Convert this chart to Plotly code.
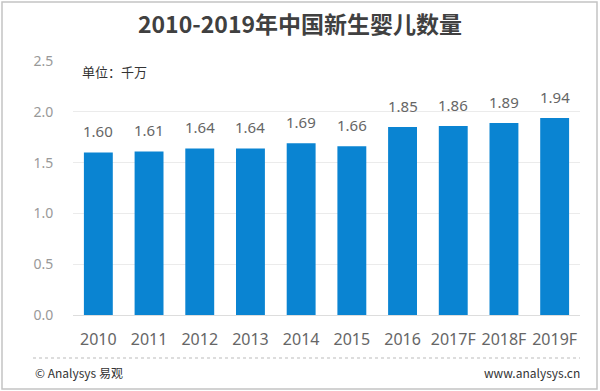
import plotly.graph_objects as go

years = ["2010", "2011", "2012", "2013", "2014", "2015", "2016", "2017F", "2018F", "2019F"]
births = [1.60, 1.61, 1.64, 1.64, 1.69, 1.66, 1.85, 1.86, 1.89, 1.94]
y_ticks = [0.0, 0.5, 1.0, 1.5, 2.0, 2.5]

FONT = "Noto Sans, Noto Sans CJK SC, sans-serif"
CJK = "Noto Sans CJK SC, sans-serif"

fig = go.Figure()
fig.add_trace(go.Bar(
    x=years, y=births,
    marker=dict(color="#0a84d2", line=dict(width=0)),
    width=0.57,
    hoverinfo="skip",
))

# plot area: x 73..580, y 61..315
def px(x):
    return (x - 73) / 507

def py(y):
    return (315 - y) / 254

# value labels: on a category axis, annotation x is the category index
annotations = [
    dict(text=f"{v:.2f}", x=i, y=v, xref="x", yref="y", yanchor="bottom", xanchor="center",
         yshift=9, showarrow=False, font=dict(family=FONT, size=15, color="#666666"))
    for i, v in enumerate(births)
]
annotations += [
    dict(text="单位：千万", xref="paper", yref="paper", x=px(80), y=py(71),
         xanchor="left", yanchor="middle", showarrow=False,
         font=dict(family=CJK, size=13, color="#333333")),
    dict(text="© Analysys 易观", xref="paper", yref="paper", x=px(33), y=py(372),
         xanchor="left", yanchor="middle", showarrow=False,
         font=dict(family=CJK, size=12, color="#333333")),
    dict(text="www.analysys.cn", xref="paper", yref="paper", x=px(582), y=py(372),
         xanchor="right", yanchor="middle", showarrow=False,
         font=dict(family=CJK, size=12, color="#333333")),
]

fig.update_layout(
    width=600, height=391,
    margin=dict(l=73, r=20, t=61, b=76),
    paper_bgcolor="white", plot_bgcolor="white",
    showlegend=False,
    title=dict(text="<b>2010-2019年中国新生婴儿数量</b>", x=0.5, xanchor="center",
               y=1 - 25 / 391, yanchor="middle",
               font=dict(family=CJK, size=23, color="#404040")),
    xaxis=dict(type="category", categoryorder="array", categoryarray=years,
               showgrid=False, showline=False, zeroline=False,
               ticks="outside", ticklen=10, tickcolor="rgba(0,0,0,0)",
               tickfont=dict(family=FONT, size=16, color="#666666")),
    yaxis=dict(range=[0, 2.5], tickvals=y_ticks, ticktext=[f"{v:.1f}" for v in y_ticks],
               showgrid=True, gridcolor="#ebebeb", gridwidth=1,
               zeroline=True, zerolinecolor="#dddddd", zerolinewidth=1,
               showline=False, ticks="outside", ticklen=16, tickcolor="rgba(0,0,0,0)",
               tickfont=dict(family=FONT, size=14, color="#999999")),
    shapes=[
        dict(type="line", xref="paper", yref="paper", x0=px(33), x1=px(580), y0=py(358), y1=py(358),
             line=dict(color="#bbbbbb", width=1, dash="dot")),
        dict(type="rect", xref="paper", yref="paper", x0=px(2), x1=px(597), y0=py(389), y1=py(2),
             line=dict(color="#c4c4c4", width=1.5)),
    ],
    annotations=annotations,
    bargap=0.43,
)

fig.write_html("out.html", config={"displayModeBar": False},
               post_script="document.body.style.margin='0';document.body.style.overflow='hidden';")
